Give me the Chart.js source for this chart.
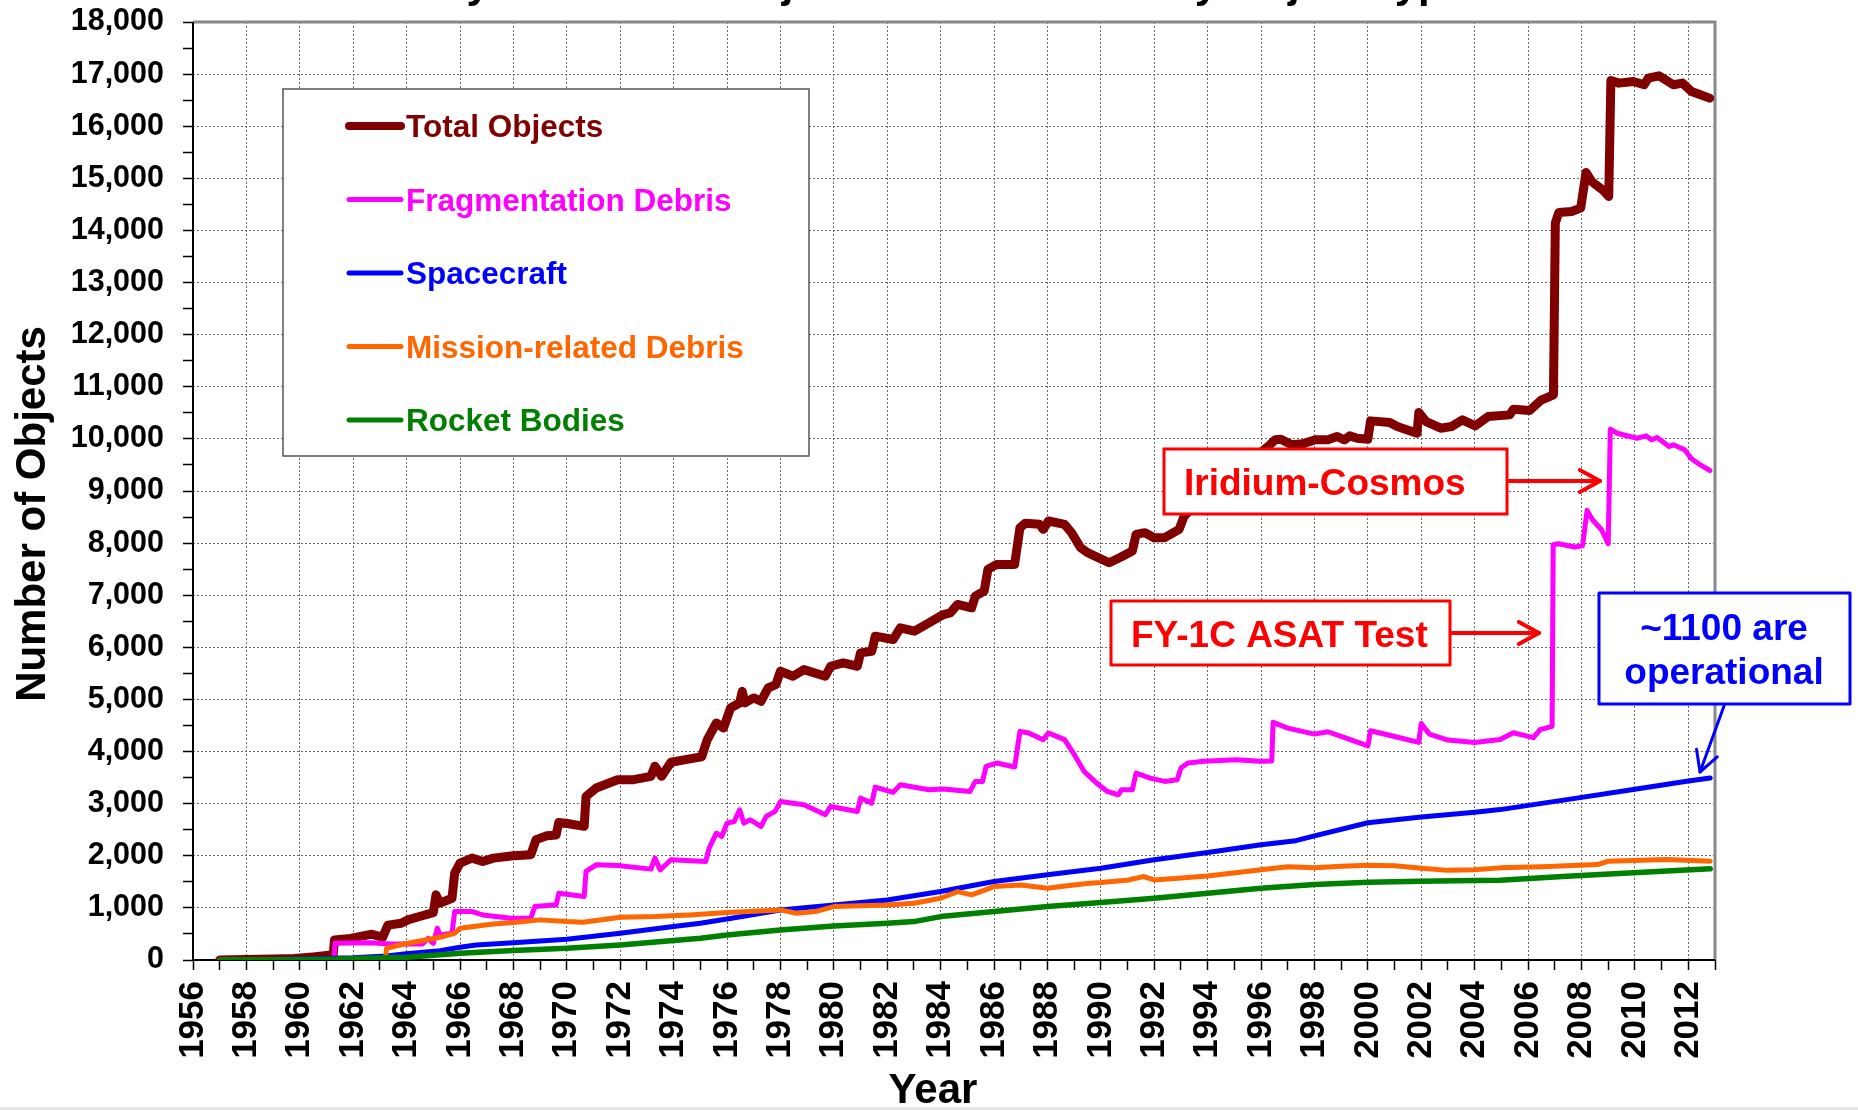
<!DOCTYPE html>
<html>
<head>
<meta charset="utf-8">
<title>Objects in Earth Orbit by Object Type</title>
<script src="https://cdn.jsdelivr.net/npm/chart.js@4.4.0/dist/chart.umd.min.js"></script>
<style>
  html, body { margin: 0; padding: 0; background: #fff; overflow: hidden; }
  #wrap { position: relative; width: 1858px; height: 1110px; }
  #chart { display: block; }
  #title {
    position: absolute; left: 329px; top: -41px; white-space: nowrap;
    font: bold 42px "Liberation Sans", Arial, sans-serif; color: #000;
  }
  #strip { position: absolute; left: 0; bottom: 0; width: 1858px; height: 3px; background: #e3e3ea; }
</style>
</head>
<body>
<div id="wrap">
  <canvas id="chart" width="1858" height="1110" style="width:1858px;height:1110px"></canvas>
  <div id="title">Monthly Number of Objects in Earth Orbit by Object Type</div>
  <div id="strip"></div>
</div>
<script>
// series names / colours (legend order)
const seriesNames = ["Total Objects", "Fragmentation Debris", "Spacecraft", "Mission-related Debris", "Rocket Bodies"];
const seriesColors = ["#800000", "#FF00FF", "#0000FF", "#FF6600", "#008000"];
const seriesWidths = [9, 5, 5, 5, 5.5];

// values (year, number of objects)
const totalYears = [1957.0, 1958.0, 1959.0, 1959.8, 1960.5, 1961.25, 1961.3, 1961.9, 1962.7, 1963.1, 1963.3, 1963.8, 1964.05, 1964.45, 1965.0, 1965.1, 1965.25, 1965.7, 1965.8, 1966.0, 1966.45, 1966.85, 1967.25, 1968.0, 1968.65, 1968.85, 1969.25, 1969.6, 1969.7, 1970.07, 1970.65, 1970.72, 1971.1, 1971.9, 1972.5, 1973.15, 1973.3, 1973.55, 1973.9, 1974.6, 1975.05, 1975.26, 1975.6, 1975.87, 1976.13, 1976.47, 1976.57, 1976.67, 1977.0, 1977.27, 1977.54, 1977.83, 1978.0, 1978.47, 1978.88, 1979.68, 1979.88, 1980.35, 1980.88, 1981.0, 1981.42, 1981.55, 1982.22, 1982.49, 1983.02, 1983.56, 1984.1, 1984.36, 1984.63, 1985.16, 1985.3, 1985.63, 1985.77, 1986.1, 1986.77, 1986.97, 1987.17, 1987.7, 1987.84, 1988.04, 1988.64, 1988.9, 1989.24, 1989.5, 1989.78, 1990.31, 1990.7, 1991.18, 1991.32, 1991.65, 1991.99, 1992.39, 1992.93, 1993.12, 1993.6, 1994.3, 1995.2, 1995.9, 1996.33, 1996.53, 1996.74, 1997.15, 1997.55, 1998.03, 1998.5, 1998.85, 1999.12, 1999.32, 1999.6, 2000.0, 2000.1, 2000.82, 2001.1, 2001.84, 2001.91, 2002.18, 2002.73, 2003.13, 2003.54, 2004.02, 2004.5, 2005.31, 2005.45, 2006.06, 2006.47, 2006.95, 2007.02, 2007.15, 2007.63, 2007.97, 2008.17, 2008.38, 2008.79, 2009.02, 2009.1, 2009.4, 2009.94, 2010.35, 2010.5, 2010.9, 2011.44, 2011.78, 2012.12, 2012.8];
const totalCounts = [0, 10, 20, 30, 60, 100, 385, 415, 495, 435, 670, 705, 770, 830, 910, 1250, 1090, 1185, 1667, 1860, 1955, 1890, 1955, 2000, 2020, 2310, 2385, 2400, 2640, 2615, 2565, 3140, 3300, 3460, 3460, 3525, 3720, 3525, 3795, 3860, 3900, 4228, 4548, 4452, 4837, 4933, 5157, 4933, 5029, 4965, 5221, 5285, 5541, 5445, 5573, 5445, 5637, 5701, 5637, 5894, 5926, 6214, 6150, 6374, 6310, 6470, 6630, 6662, 6823, 6759, 6983, 7079, 7495, 7591, 7591, 8296, 8380, 8360, 8264, 8424, 8360, 8200, 7912, 7816, 7751, 7623, 7720, 7848, 8168, 8200, 8104, 8104, 8264, 8520, 8750, 9000, 9350, 9700, 9886, 9982, 9994, 9886, 9905, 9982, 9982, 10046, 9982, 10058, 10013, 9994, 10346, 10314, 10237, 10109, 10506, 10333, 10205, 10237, 10365, 10250, 10429, 10461, 10570, 10544, 10737, 10845, 14140, 14345, 14364, 14428, 15113, 14940, 14780, 14652, 16878, 16827, 16859, 16795, 16923, 16968, 16795, 16827, 16667, 16539];

const fragYears = [1957.0, 1961.28, 1961.32, 1962.6, 1963.4, 1964.6, 1964.8, 1965.0, 1965.15, 1965.25, 1965.7, 1965.8, 1966.45, 1966.85, 1967.9, 1968.65, 1968.8, 1969.6, 1969.7, 1970.65, 1970.72, 1971.1, 1971.9, 1973.15, 1973.3, 1973.5, 1973.9, 1975.2, 1975.33, 1975.6, 1975.8, 1976.0, 1976.27, 1976.47, 1976.63, 1976.87, 1977.27, 1977.47, 1977.8, 1978.0, 1978.88, 1979.68, 1979.88, 1980.88, 1981.0, 1981.42, 1981.55, 1982.22, 1982.49, 1983.56, 1984.1, 1985.1, 1985.3, 1985.57, 1985.7, 1986.1, 1986.77, 1986.97, 1987.3, 1987.84, 1988.04, 1988.64, 1988.97, 1989.37, 1989.84, 1990.24, 1990.65, 1990.78, 1991.18, 1991.32, 1991.85, 1992.39, 1992.86, 1993.0, 1993.26, 1993.86, 1995.06, 1995.97, 1996.4, 1996.45, 1997.0, 1998.0, 1998.5, 1999.0, 2000.0, 2000.1, 2001.0, 2001.9, 2002.0, 2002.3, 2003.0, 2004.0, 2004.95, 2005.45, 2006.2, 2006.45, 2006.9, 2006.94, 2007.14, 2007.74, 2008.04, 2008.21, 2008.41, 2008.75, 2009.0, 2009.08, 2009.33, 2010.08, 2010.42, 2010.62, 2010.83, 2011.28, 2011.44, 2011.86, 2012.12, 2012.45, 2012.81];
const fragCounts = [0, 0, 320, 333, 308, 308, 415, 320, 610, 480, 513, 930, 930, 865, 800, 800, 1025, 1058, 1280, 1218, 1700, 1827, 1814, 1744, 1955, 1730, 1923, 1890, 2146, 2434, 2370, 2626, 2658, 2883, 2626, 2690, 2562, 2755, 2851, 3043, 2979, 2787, 2947, 2851, 3107, 3011, 3318, 3216, 3363, 3267, 3280, 3235, 3427, 3427, 3716, 3780, 3703, 4388, 4356, 4228, 4356, 4228, 3972, 3620, 3395, 3235, 3171, 3267, 3267, 3587, 3491, 3427, 3459, 3684, 3780, 3812, 3844, 3812, 3820, 4560, 4450, 4335, 4380, 4290, 4110, 4400, 4290, 4175, 4540, 4335, 4220, 4175, 4230, 4360, 4266, 4420, 4484, 7968, 7988, 7924, 7950, 8628, 8449, 8257, 7988, 10186, 10109, 10013, 10058, 9982, 10026, 9855, 9886, 9790, 9620, 9500, 9394];

const scYears = [1957.0, 1958.0, 1960.0, 1962.0, 1963.25, 1963.9, 1965.25, 1966.0, 1966.6, 1968.0, 1970.0, 1972.0, 1974.0, 1975.0, 1976.0, 1978.0, 1980.0, 1982.0, 1984.0, 1986.0, 1988.0, 1990.0, 1992.0, 1994.0, 1996.0, 1997.3, 1998.0, 2000.0, 2002.0, 2004.0, 2004.95, 2007.45, 2009.94, 2011.94, 2012.82];
const scCounts = [0, 5, 20, 45, 77, 115, 180, 244, 288, 333, 397, 513, 641, 705, 785, 961, 1057, 1153, 1313, 1505, 1634, 1762, 1922, 2063, 2210, 2290, 2383, 2633, 2746, 2837, 2886, 3078, 3270, 3430, 3494];

const mrdYears = [1957.0, 1961.0, 1963.2, 1963.25, 1963.9, 1965.25, 1965.8, 1966.0, 1967.25, 1968.0, 1969.0, 1970.0, 1970.6, 1972.0, 1973.3, 1974.6, 1976.0, 1978.0, 1978.6, 1979.3, 1980.0, 1982.0, 1983.0, 1984.0, 1984.63, 1985.16, 1986.0, 1987.0, 1988.0, 1988.5, 1989.57, 1990.0, 1991.05, 1991.6, 1992.0, 1994.0, 1996.0, 1997.0, 1998.0, 1999.0, 2000.0, 2001.0, 2002.0, 2003.0, 2004.0, 2004.95, 2006.5, 2008.6, 2009.0, 2011.2, 2012.82];
const mrdCounts = [0, 5, 10, 225, 308, 435, 513, 610, 690, 718, 770, 737, 725, 820, 833, 865, 910, 961, 897, 929, 1025, 1057, 1089, 1185, 1313, 1249, 1409, 1441, 1377, 1409, 1473, 1486, 1537, 1602, 1537, 1614, 1730, 1790, 1770, 1800, 1820, 1810, 1760, 1720, 1730, 1768, 1790, 1832, 1895, 1927, 1895];

const rbYears = [1957.0, 1959.0, 1961.2, 1964.0, 1966.0, 1968.0, 1970.0, 1972.0, 1974.0, 1975.0, 1976.0, 1978.0, 1980.0, 1982.0, 1983.0, 1984.0, 1986.0, 1988.0, 1990.0, 1992.0, 1994.0, 1996.0, 1998.0, 2000.0, 2002.0, 2004.0, 2004.95, 2007.45, 2009.94, 2012.82];
const rbCounts = [0, 5, 13, 51, 128, 180, 224, 288, 372, 416, 480, 577, 653, 705, 737, 833, 929, 1025, 1102, 1185, 1281, 1377, 1450, 1490, 1510, 1525, 1531, 1608, 1672, 1749];

// axis range / ticks
const yearMin = 1956, yearMax = 2013;
const countMax = 18000;

const font = '"Liberation Sans", Arial, sans-serif';

function pts(xs, ys) {
  return xs.map((x, i) => ({ x: x, y: ys[i] }));
}

const seriesData = [
  pts(totalYears, totalCounts),
  pts(fragYears, fragCounts),
  pts(scYears, scCounts),
  pts(mrdYears, mrdCounts),
  pts(rbYears, rbCounts)
];

// axes frame, legend box, callouts, axis titles
const decor = {
  id: "decor",
  beforeDatasetsDraw(chart) {
    const ctx = chart.ctx;
    const a = chart.chartArea;
    ctx.save();
    ctx.lineCap = "butt";
    ctx.strokeStyle = "#888";
    ctx.lineWidth = 3;
    ctx.beginPath();
    ctx.moveTo(a.left, a.top);
    ctx.lineTo(a.right, a.top);
    ctx.lineTo(a.right, a.bottom);
    ctx.stroke();
    ctx.strokeStyle = "#000";
    ctx.lineWidth = 2;
    ctx.beginPath();
    ctx.moveTo(a.left, a.top);
    ctx.lineTo(a.left, a.bottom);
    ctx.lineTo(a.right, a.bottom);
    ctx.stroke();
    ctx.restore();
  },
  afterDatasetsDraw(chart) {
    const ctx = chart.ctx;
    ctx.save();

    // legend
    ctx.fillStyle = "#fff";
    ctx.fillRect(283, 89, 526, 367);
    ctx.strokeStyle = "#555";
    ctx.lineWidth = 1.5;
    ctx.strokeRect(283, 89, 526, 367);
    ctx.font = "bold 31.5px " + font;
    ctx.textBaseline = "alphabetic";
    ctx.textAlign = "left";
    ctx.lineCap = "round";
    seriesNames.forEach((name, i) => {
      const y = 126 + i * 73.5;
      ctx.strokeStyle = seriesColors[i];
      ctx.lineWidth = i === 0 ? 8 : 5;
      ctx.beginPath();
      ctx.moveTo(349, y);
      ctx.lineTo(401, y);
      ctx.stroke();
      ctx.fillStyle = seriesColors[i];
      ctx.fillText(name, 406, y + 11);
    });

    // callouts
    const box = (x, y, w, h, color) => {
      ctx.fillStyle = "#fff";
      ctx.fillRect(x, y, w, h);
      ctx.strokeStyle = color;
      ctx.lineWidth = 3;
      ctx.strokeRect(x, y, w, h);
    };
    const arrow = (x1, y1, x2, y2, color, lw) => {
      ctx.strokeStyle = color;
      ctx.lineWidth = lw;
      ctx.lineCap = "round";
      ctx.lineJoin = "round";
      ctx.beginPath();
      ctx.moveTo(x1, y1);
      ctx.lineTo(x2, y2);
      ctx.stroke();
      const ang = Math.atan2(y2 - y1, x2 - x1);
      const len = 23, spread = 0.5;
      ctx.beginPath();
      ctx.moveTo(x2 - len * Math.cos(ang - spread), y2 - len * Math.sin(ang - spread));
      ctx.lineTo(x2, y2);
      ctx.lineTo(x2 - len * Math.cos(ang + spread), y2 - len * Math.sin(ang + spread));
      ctx.stroke();
    };

    ctx.font = "bold 37px " + font;
    box(1164, 449, 343, 65, "#FF0000");
    ctx.fillStyle = "#FF0000";
    ctx.textAlign = "left";
    ctx.fillText("Iridium-Cosmos", 1184, 495);
    arrow(1509, 481, 1600, 481, "#FF0000", 4);

    box(1111, 601, 339, 64, "#FF0000");
    ctx.fillStyle = "#FF0000";
    ctx.fillText("FY-1C ASAT Test", 1131, 647);
    arrow(1452, 633, 1539, 633, "#FF0000", 4);

    box(1599, 593, 251, 111, "#0000FF");
    ctx.fillStyle = "#0000FF";
    ctx.textAlign = "center";
    ctx.fillText("~1100 are", 1724, 640);
    ctx.fillText("operational", 1724, 684);
    arrow(1724, 706, 1700, 772, "#0000FF", 3);

    ctx.restore();
  },
  afterDraw(chart) {
    const ctx = chart.ctx;
    ctx.save();
    ctx.fillStyle = "#000";
    ctx.font = "bold 42px " + font;
    ctx.textAlign = "center";
    ctx.textBaseline = "alphabetic";
    ctx.translate(45, 514);
    ctx.rotate(-Math.PI / 2);
    ctx.fillText("Number of Objects", 0, 0);
    ctx.restore();
    ctx.save();
    ctx.fillStyle = "#000";
    ctx.font = "bold 42px " + font;
    ctx.textAlign = "center";
    ctx.fillText("Year", 933, 1103);
    ctx.restore();
  }
};

const order = [5, 4, 3, 2, 1];

new Chart(document.getElementById("chart"), {
  type: "line",
  data: {
    datasets: seriesData.map((d, i) => ({
      label: seriesNames[i],
      data: d,
      borderColor: seriesColors[i],
      borderWidth: seriesWidths[i],
      pointRadius: 0,
      tension: 0,
      fill: false,
      order: order[i],
      borderJoinStyle: "round",
      borderCapStyle: "round"
    }))
  },
  options: {
    responsive: false,
    animation: false,
    events: [],
    layout: { padding: { top: 22, right: 143, left: 0, bottom: 0 } },
    plugins: {
      legend: { display: false },
      tooltip: { enabled: false },
      title: { display: false }
    },
    scales: {
      x: {
        type: "linear",
        min: yearMin,
        max: yearMax,
        afterFit: s => {
          s.height = 150;
          s.paddingLeft = 0;
          s.paddingRight = 0;
        },
        border: { display: false, dash: [2, 2] },
        grid: {
          color: c => (c.tick && c.tick.value % 2 === 0) ? "#6a6a6a" : "rgba(0,0,0,0)",
          lineWidth: 1,
          tickLength: 10,
          tickColor: "#000",
          tickWidth: 1.5,
          tickBorderDash: []
        },
        ticks: {
          stepSize: 1,
          autoSkip: false,
          minRotation: 90,
          maxRotation: 90,
          padding: 11,
          color: "#000",
          font: { family: font, size: 35, weight: "bold" },
          callback: v => (v % 2 === 0 ? String(v) : "")
        }
      },
      y: {
        min: 0,
        max: countMax,
        afterFit: s => {
          s.width = 193;
          s.paddingTop = 0;
          s.paddingBottom = 0;
        },
        border: { display: false, dash: [2, 2] },
        grid: {
          color: c => (c.tick && c.tick.value % 1000 === 0) ? "#6a6a6a" : "rgba(0,0,0,0)",
          lineWidth: 1,
          tickLength: 10,
          tickColor: "#000",
          tickWidth: 1.5,
          tickBorderDash: []
        },
        ticks: {
          stepSize: 500,
          autoSkip: false,
          padding: 19,
          color: "#000",
          font: { family: font, size: 30.5, weight: "bold" },
          callback: v => (v % 1000 === 0 ? v.toLocaleString("en-US") : "")
        }
      }
    }
  },
  plugins: [decor]
});
</script>
</body>
</html>
